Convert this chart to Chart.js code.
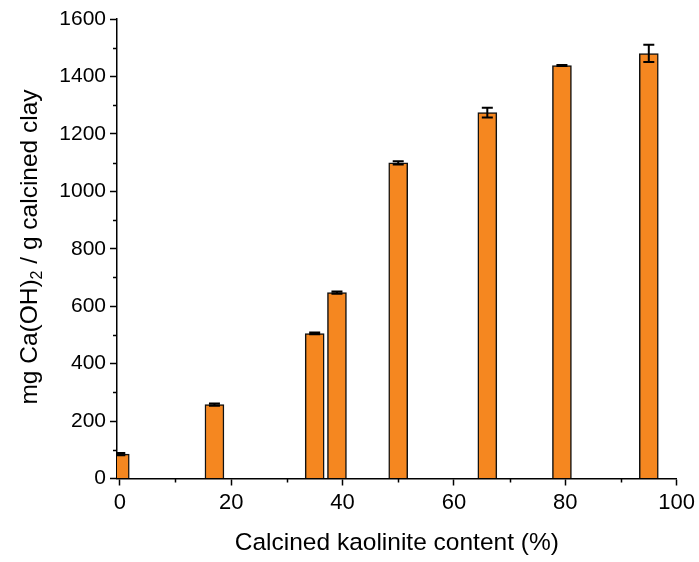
<!DOCTYPE html>
<html lang="en">
<head>
  <meta charset="UTF-8">
  <title>Portlandite consumption</title>
  <script src="https://cdn.jsdelivr.net/npm/chart.js"></script>
  <style>
    body { margin: 0; background: #fff; }
    .chart-container { width: 699px; height: 562px; }
  </style>
</head>
<body>
  <div class="chart-container"><canvas id="chart"></canvas></div>
  <script>
    // Calcined kaolinite content (%) and lime consumption (mg Ca(OH)2 / g calcined clay)
    const kaoliniteContent = [0, 17, 35, 39, 50, 66, 79.4, 95];
    const limeConsumed = [85, 257, 505, 647, 1099, 1274, 1438, 1480];
    const errors = [4, 4, 3, 4, 6, 17, 2, 30];
    const yTicks = [0, 200, 400, 600, 800, 1000, 1200, 1400, 1600];
    const xTicks = [0, 20, 40, 60, 80, 100];

    const FONT = 'Liberation Sans, Arial, sans-serif';

    // minor ticks, error bars and the y title with its subscript
    const extras = {
      id: 'extras',
      afterDatasetsDraw(chart) {
        const ctx = chart.ctx;
        const area = chart.chartArea;
        const ys = chart.scales.y;
        const meta = chart.getDatasetMeta(0);
        ctx.save();
        ctx.beginPath();
        ctx.rect(area.left, area.top - 20, area.right - area.left, area.bottom - area.top + 20);
        ctx.clip();
        ctx.strokeStyle = '#000';
        ctx.lineWidth = 2;
        meta.data.forEach((bar, i) => {
          const x = bar.x;
          const top = ys.getPixelForValue(limeConsumed[i] + errors[i]);
          const bot = ys.getPixelForValue(limeConsumed[i] - errors[i]);
          ctx.beginPath();
          ctx.moveTo(x, top); ctx.lineTo(x, bot);
          ctx.moveTo(x - 5.5, top); ctx.lineTo(x + 5.5, top);
          ctx.moveTo(x - 5.5, bot); ctx.lineTo(x + 5.5, bot);
          ctx.stroke();
        });
        ctx.restore();
      },
      afterDraw(chart) {
        const ctx = chart.ctx;
        const area = chart.chartArea;
        const xs = chart.scales.x, ys = chart.scales.y;
        ctx.save();
        ctx.strokeStyle = '#000';
        ctx.lineWidth = 1.5;
        ctx.beginPath();
        for (let v = 100; v < 1600; v += 200) {
          const y = Math.round(ys.getPixelForValue(v)) + 0.5;
          ctx.moveTo(area.left - 4, y); ctx.lineTo(area.left, y);
        }
        for (let v = 10; v < 100; v += 20) {
          const x = Math.round(xs.getPixelForValue(v)) + 0.5;
          ctx.moveTo(x, area.bottom); ctx.lineTo(x, area.bottom + 4);
        }
        ctx.stroke();

        // y axis title
        ctx.translate(30, 247);
        ctx.rotate(-Math.PI / 2);
        ctx.fillStyle = '#000';
        ctx.textBaseline = 'middle';
        const big = '24.5px ' + FONT, small = '16px ' + FONT;
        const parts = ['mg Ca(OH)', '2', ' / g calcined clay'];
        ctx.font = big;
        const w0 = ctx.measureText(parts[0]).width;
        const w2 = ctx.measureText(parts[2]).width;
        ctx.font = small;
        const w1 = ctx.measureText(parts[1]).width;
        let x = -(w0 + w1 + w2) / 2;
        ctx.font = big;
        ctx.fillText(parts[0], x, 0);
        x += w0;
        ctx.font = small;
        ctx.fillText(parts[1], x, 8);
        x += w1;
        ctx.font = big;
        ctx.fillText(parts[2], x, 0);
        ctx.restore();
      }
    };

    new Chart(document.getElementById('chart'), {
      type: 'bar',
      data: {
        datasets: [{
          data: kaoliniteContent.map((k, i) => ({ x: k, y: limeConsumed[i] })),
          backgroundColor: '#f58720',
          borderColor: '#111',
          borderWidth: 1.5,
          barThickness: 19,
          clip: { left: 0, top: false, right: false, bottom: 0 }
        }]
      },
      options: {
        responsive: true,
        maintainAspectRatio: false,
        animation: false,
        layout: { padding: { top: 19, right: 21, left: 0, bottom: 0 } },
        plugins: { legend: { display: false }, tooltip: { enabled: false } },
        scales: {
          x: {
            type: 'linear',
            offset: false,
            min: -0.5,
            max: 100,
            afterBuildTicks: s => { s.ticks = xTicks.map(v => ({ value: v })); },
            afterFit: s => { s.height = 83.5; },
            ticks: { color: '#000', font: { family: FONT, size: 22 }, padding: 4, maxRotation: 0 },
            grid: { offset: false, drawOnChartArea: false, tickLength: 7, tickColor: '#000', tickWidth: 1.5 },
            border: { color: '#000', width: 1.5 },
            title: {
              display: true,
              text: 'Calcined kaolinite content (%)',
              color: '#000',
              font: { family: FONT, size: 24.5 },
              padding: { top: 10, bottom: 4 }
            }
          },
          y: {
            min: 0,
            max: 1600,
            afterBuildTicks: s => { s.ticks = yTicks.map(v => ({ value: v })); },
            afterFit: s => { s.width = 117; },
            ticks: { color: '#000', font: { family: FONT, size: 21 }, padding: 4, callback: v => String(v) },
            grid: { drawOnChartArea: false, tickLength: 7, tickColor: '#000', tickWidth: 1.5 },
            border: { color: '#000', width: 1.5 }
          }
        }
      },
      plugins: [extras]
    });
  </script>
</body>
</html>
